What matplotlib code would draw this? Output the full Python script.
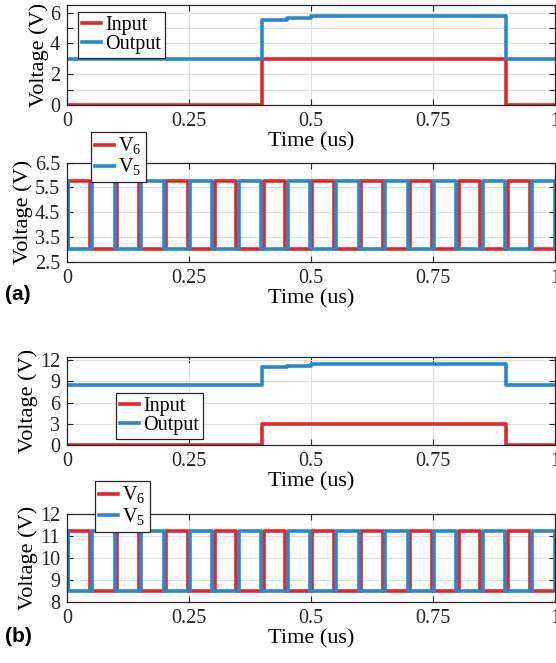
import matplotlib
matplotlib.use("Agg")
import matplotlib.pyplot as plt
import numpy as np

plt.rcParams['font.family'] = ['Liberation Serif', 'DejaVu Serif']
plt.rcParams['mathtext.fontset'] = 'custom'
plt.rcParams['mathtext.rm'] = 'Liberation Serif'

RED = '#e2262c'
BLUE = '#2a87c9'

# ---- (a) low-voltage case ----
a_in_t = [0, 0.4, 0.4, 0.9, 0.9, 1.0]
a_in_v = [0, 0, 3, 3, 0, 0]
a_out_t = [0, 0.4, 0.4, 0.45, 0.45, 0.5, 0.5, 0.9, 0.9, 1.0]
a_out_v = [3.0, 3.0, 5.5, 5.5, 5.65, 5.65, 5.8, 5.8, 3.0, 3.0]
a_sw_hi = 5.75
a_sw_lo = 3.0

# ---- (b) high-voltage case ----
b_in_t = [0, 0.4, 0.4, 0.9, 0.9, 1.0]
b_in_v = [0, 0, 3, 3, 0, 0]
b_out_t = [0, 0.4, 0.4, 0.45, 0.45, 0.5, 0.5, 0.9, 0.9, 1.0]
b_out_v = [8.5, 8.5, 11.05, 11.05, 11.2, 11.2, 11.4, 11.4, 8.5, 8.5]
b_sw_hi = 11.25
b_sw_lo = 8.5

# switch-node pulse edges (us)
v6_on = [0.003, 0.103, 0.203, 0.303, 0.403, 0.503, 0.603, 0.703, 0.803, 0.903]
v6_off = [0.047, 0.147, 0.247, 0.347, 0.447, 0.547, 0.647, 0.747, 0.847, 0.949]
v5_on = [0.0, 0.052, 0.152, 0.252, 0.352, 0.452, 0.552, 0.652, 0.752, 0.852, 0.953]
v5_off = [0.003, 0.098, 0.198, 0.298, 0.398, 0.498, 0.598, 0.698, 0.798, 0.898, 1.0]


def pulse_trace(on, off, hi, lo, end=1.0):
    t, v = [0.0], [lo if on[0] > 0 else hi]
    for a, b in zip(on, off):
        t += [a, a, b, b]
        v += [lo, hi, hi, lo]
    t.append(end)
    v.append(v[-1])
    return t, v


W, H = 556, 663
fig = plt.figure(figsize=(W / 100, H / 100), dpi=100)


def make_ax(top, bottom):
    ax = fig.add_axes([67 / W, 1 - bottom / H, 488 / W, (bottom - top) / H])
    ax.set_xlim(0, 1)
    ax.set_xticks([0, 0.25, 0.5, 0.75, 1])
    ax.set_xticklabels(['0', '0.25', '0.5', '0.75', '1'])
    ax.tick_params(direction='in', top=True, right=True, labelsize=14.5,
                   length=4, width=0.8, pad=5, colors='#262626')
    ax.grid(True, color='#e0e0e0', linewidth=0.8)
    ax.set_axisbelow(True)
    for s in ax.spines.values():
        s.set_color('#262626')
        s.set_linewidth(0.9)
    ax.set_xlabel('Time (us)', fontsize=16, labelpad=1)
    ax.set_ylabel('Voltage (V)', fontsize=16, labelpad=1)
    return ax


def add_legend(ax, labels, x, y):
    leg = ax.legend(labels, loc='upper left', bbox_to_anchor=(x / W, 1 - y / H),
                    bbox_transform=fig.transFigure, fontsize=14.5, handlelength=0.95,
                    handletextpad=0.2, borderpad=0.2, labelspacing=0.0,
                    borderaxespad=0, fancybox=False, framealpha=1)
    leg.get_frame().set_edgecolor('#262626')
    leg.get_frame().set_linewidth(0.9)
    leg.set_zorder(10)


lw = 2.6

# panel 1
ax1 = make_ax(5, 105)
ax1.plot(a_in_t, a_in_v, color=RED, lw=lw)
ax1.plot(a_out_t, a_out_v, color=BLUE, lw=lw)
ax1.set_ylim(0, 6.5)
ax1.set_yticks([0, 1, 2, 3, 4, 5, 6])
ax1.set_yticklabels(['0', '', '2', '', '4', '', '6'])
add_legend(ax1, ['Input', 'Output'], 78, 12)

# panel 2
ax2 = make_ax(162.7, 261.7)
t6, y6 = pulse_trace(v6_on, v6_off, a_sw_hi, a_sw_lo)
t5, y5 = pulse_trace(v5_on, v5_off, a_sw_hi, a_sw_lo)
ax2.plot(t6, y6, color=RED, lw=lw)
ax2.plot(t5, y5, color=BLUE, lw=lw)
ax2.set_ylim(2.5, 6.5)
ax2.set_yticks([2.5, 3.5, 4.5, 5.5, 6.5])
add_legend(ax2, [r'V$_\mathregular{6}$', r'V$_\mathregular{5}$'], 91, 131.7)

# panel 3
ax3 = make_ax(356.7, 445)
ax3.plot(b_in_t, b_in_v, color=RED, lw=lw)
ax3.plot(b_out_t, b_out_v, color=BLUE, lw=lw)
ax3.set_ylim(0, 12.5)
ax3.set_yticks([0, 3, 6, 9, 12])
add_legend(ax3, ['Input', 'Output'], 116, 393)

# panel 4
ax4 = make_ax(514.3, 602.3)
t6, y6 = pulse_trace(v6_on, v6_off, b_sw_hi, b_sw_lo)
t5, y5 = pulse_trace(v5_on, v5_off, b_sw_hi, b_sw_lo)
ax4.plot(t6, y6, color=RED, lw=lw)
ax4.plot(t5, y5, color=BLUE, lw=lw)
ax4.set_ylim(8, 12)
ax4.set_yticks([8, 9, 10, 11, 12])
add_legend(ax4, [r'V$_\mathregular{6}$', r'V$_\mathregular{5}$'], 95, 481)

fig.text(5 / W, 1 - 295 / H, '(a)', family='Liberation Sans', fontweight='bold',
         fontsize=15, va='center', ha='left')
fig.text(5 / W, 1 - 637 / H, '(b)', family='Liberation Sans', fontweight='bold',
         fontsize=15, va='center', ha='left')

fig.savefig('out.png', dpi=100)
